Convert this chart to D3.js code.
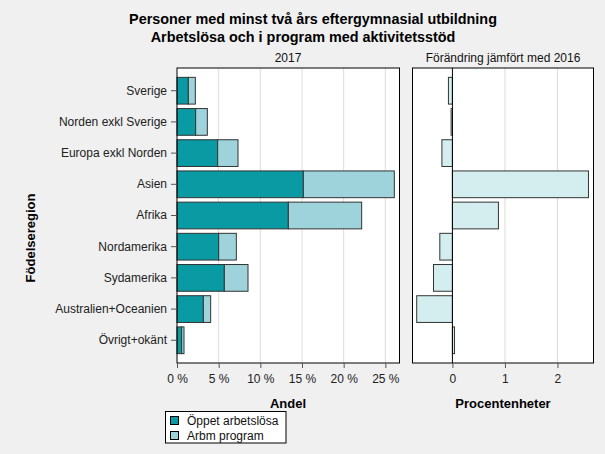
<!DOCTYPE html>
<html><head><meta charset="utf-8">
<script src="https://cdn.jsdelivr.net/npm/d3@7"></script>
<style>
html,body{margin:0;padding:0;background:#f0f0f0;}
svg{display:block;font-family:"Liberation Sans",Arial,sans-serif;}
</style></head>
<body><svg id="c" width="605" height="454"></svg>
<script>
const categories = ["Sverige","Norden exkl Sverige","Europa exkl Norden","Asien","Afrika","Nordamerika","Sydamerika","Australien+Oceanien","Övrigt+okänt"];
const oppetArbetslosa = [1.36, 2.24, 4.88, 15.16, 13.36, 5.0, 5.68, 3.16, 0.56];
const arbmProgram = [0.84, 1.40, 2.44, 10.92, 8.80, 2.12, 2.84, 0.88, 0.28];
const forandring = [-0.076, -0.025, -0.20, 2.59, 0.876, -0.24, -0.36, -0.68, 0.04];
const leftTicks = [0,5,10,15,20,25];
const rightTicks = [0,1,2];
const seriesNames = ["Öppet arbetslösa","Arbm program"];
const colTeal = "#0a9aa3", colLight = "#9ed3dc", colChange = "#d4eef0", stroke = "#333";

const svg = d3.select("#c");
const pTop = 68, pBottom = 363;
const y = d3.scaleBand().domain(categories).range([pTop, pBottom]).paddingInner(0.143).paddingOuter(0.30);

// title
svg.append("text").attr("x",313).attr("y",24).attr("text-anchor","middle").attr("font-weight","bold").attr("font-size",14.4).text("Personer med minst två års eftergymnasial utbildning");
svg.append("text").attr("x",303).attr("y",42).attr("text-anchor","middle").attr("font-weight","bold").attr("font-size",14.4).text("Arbetslösa och i program med aktivitetsstöd");

// left panel
const xL = d3.scaleLinear().domain([0,26.7]).range([177,399.5]);
svg.append("rect").attr("x",177).attr("y",pTop).attr("width",399.5-177).attr("height",pBottom-pTop).attr("fill","#fff");
svg.append("g").selectAll("line").data(leftTicks.slice(1)).join("line")
  .attr("x1",d=>xL(d)).attr("x2",d=>xL(d)).attr("y1",pTop).attr("y2",pBottom).attr("stroke","#dcdcdc");
svg.append("g").selectAll("rect").data(categories).join("rect")
  .attr("x",xL(0)).attr("y",d=>y(d)).attr("height",y.bandwidth())
  .attr("width",(d,i)=>xL(oppetArbetslosa[i])-xL(0)).attr("fill",colTeal).attr("stroke",stroke);
svg.append("g").selectAll("rect").data(categories).join("rect")
  .attr("x",(d,i)=>xL(oppetArbetslosa[i])).attr("y",d=>y(d)).attr("height",y.bandwidth())
  .attr("width",(d,i)=>xL(oppetArbetslosa[i]+arbmProgram[i])-xL(oppetArbetslosa[i])).attr("fill",colLight).attr("stroke",stroke);
svg.append("rect").attr("x",177).attr("y",pTop).attr("width",399.5-177).attr("height",pBottom-pTop).attr("fill","none").attr("stroke","#000");

const ax = svg.append("g").attr("transform",`translate(0,${pBottom})`)
  .call(d3.axisBottom(xL).tickValues(leftTicks).tickSize(5).tickPadding(6).tickFormat(d=>d+" %"));
ax.select(".domain").remove();
const ay = svg.append("g").attr("transform","translate(177,0)")
  .call(d3.axisLeft(y).tickSize(6).tickPadding(4));
ay.select(".domain").remove();
[ax,ay].forEach(a=>{a.selectAll("text").attr("font-size",12).attr("fill","#222").attr("font-family","Liberation Sans, Arial, sans-serif");
  a.selectAll("line").attr("stroke","#555");});

svg.append("text").attr("x",288).attr("y",62).attr("text-anchor","middle").attr("font-size",12).attr("fill","#111").text("2017");
svg.append("text").attr("x",288).attr("y",408).attr("text-anchor","middle").attr("font-size",13).attr("font-weight","bold").text("Andel");
svg.append("text").attr("transform","translate(35,238) rotate(-90)").attr("text-anchor","middle").attr("font-size",13).attr("font-weight","bold").text("Födelseregion");

// right panel
const xR = d3.scaleLinear().domain([-0.76,2.686]).range([412.5,593.5]);
svg.append("rect").attr("x",412.5).attr("y",pTop).attr("width",181).attr("height",pBottom-pTop).attr("fill","#fff");
svg.append("g").selectAll("line").data(rightTicks.slice(1)).join("line")
  .attr("x1",d=>xR(d)).attr("x2",d=>xR(d)).attr("y1",pTop).attr("y2",pBottom).attr("stroke","#dcdcdc");
svg.append("g").selectAll("rect").data(categories).join("rect")
  .attr("x",(d,i)=>Math.min(xR(0),xR(forandring[i]))).attr("y",d=>y(d)).attr("height",y.bandwidth())
  .attr("width",(d,i)=>Math.abs(xR(forandring[i])-xR(0))).attr("fill",colChange).attr("stroke",stroke);
svg.append("line").attr("x1",xR(0)).attr("x2",xR(0)).attr("y1",pTop).attr("y2",pBottom).attr("stroke","#000");
svg.append("rect").attr("x",412.5).attr("y",pTop).attr("width",181).attr("height",pBottom-pTop).attr("fill","none").attr("stroke","#000");
const axR = svg.append("g").attr("transform",`translate(0,${pBottom})`)
  .call(d3.axisBottom(xR).tickValues(rightTicks).tickSize(5).tickPadding(6).tickFormat(d3.format("d")));
axR.select(".domain").remove();
axR.selectAll("text").attr("font-size",12).attr("fill","#222").attr("font-family","Liberation Sans, Arial, sans-serif");
axR.selectAll("line").attr("stroke","#555");
svg.append("text").attr("x",503).attr("y",62).attr("text-anchor","middle").attr("font-size",12).attr("fill","#111").text("Förändring jämfört med 2016");
svg.append("text").attr("x",503).attr("y",408).attr("text-anchor","middle").attr("font-size",13).attr("font-weight","bold").text("Procentenheter");

// legend
const lg = svg.append("g");
lg.append("rect").attr("x",165.5).attr("y",411.5).attr("width",120.5).attr("height",31.5).attr("fill","#fff").attr("stroke","#000");
const lc = [colTeal,colLight];
seriesNames.forEach((n,i)=>{
  lg.append("rect").attr("x",170.5).attr("y",416.5+i*15).attr("width",8).attr("height",8).attr("fill",lc[i]).attr("stroke","#000");
  lg.append("text").attr("x",187).attr("y",425+i*15).attr("font-size",12).attr("fill","#111").text(n);
});
</script></body></html>
